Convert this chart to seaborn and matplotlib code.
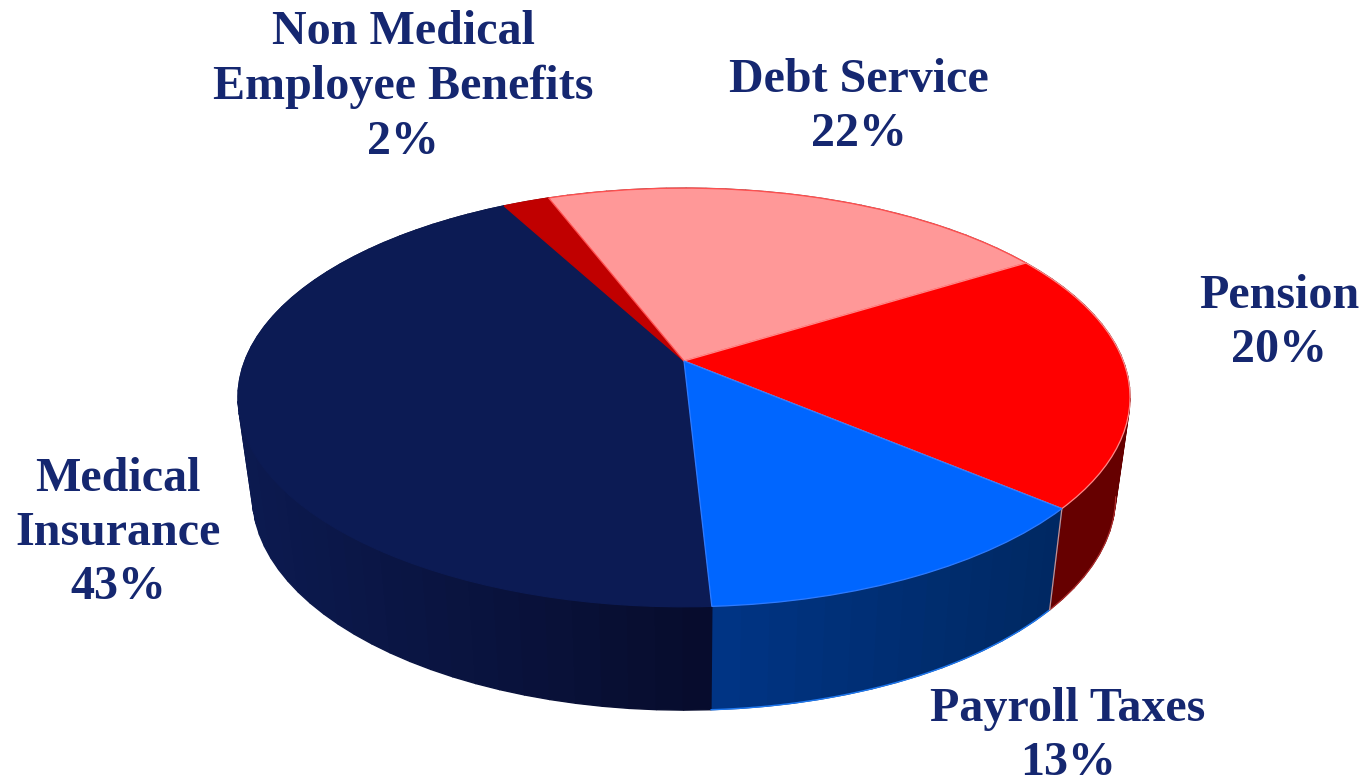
import numpy as np
import matplotlib
matplotlib.use("Agg")
import matplotlib.pyplot as plt
from matplotlib.colors import to_rgb
from matplotlib.transforms import Transform
import seaborn as sns

# Budget shares
categories = ["Medical\nInsurance", "Non Medical\nEmployee Benefits", "Debt Service", "Pension", "Payroll Taxes"]
shares = [43, 2, 22, 20, 13]

# Colours: top face, rim stroke, and the wall shade at each end of a slice
top_colors = ["#0C1B54", "#C00000", "#FF9898", "#FF0000", "#0066FF"]
top_edges = ["#0C1B54", "#C00000", "#FF5050", "#FF8888", "#2E7BFF"]
wall_left = ["#0C1A50", "#700000", "#994040", "#660000", "#003585"]
wall_right = ["#070C2C", "#700000", "#994040", "#660000", "#002862"]
label_color = "#152770"
start_angle = -87.0

# Label anchor points in pixels of the 1363x784 canvas
label_x = [118, 403, 859, 1279, 1068]
label_y = [533, 87, 107, 323, 736]

# Perspective camera: pixel-space parameters of the top (z=0) and bottom (z=1) discs
CENTER_X = 684.0
TOP_Y, BOTTOM_Y = 361.0, 458.8
TOP_A, BOTTOM_A = 439.2, 425.0
TOP_B, BOTTOM_B = 203.0, 207.6
TILT = 0.174


def project(u, v, z=0.0):
    """Map unit-disc coordinates at depth z (0 top, 1 bottom) to canvas pixels."""
    w = 1.0 + TILT * np.asarray(v)
    a = TOP_A + (BOTTOM_A - TOP_A) * z
    b = TOP_B + (BOTTOM_B - TOP_B) * z
    cy = TOP_Y + (BOTTOM_Y - TOP_Y) * z
    return CENTER_X + a * np.asarray(u) / w, cy - b * np.asarray(v) / w


class TopFace(Transform):
    input_dims = 2
    output_dims = 2
    is_affine = False

    def transform_non_affine(self, values):
        values = np.asarray(values)
        x, y = project(values[:, 0], values[:, 1])
        return np.column_stack([x, y])


sns.set_theme(style="white")
plt.rcParams["font.family"] = ["Liberation Serif", "DejaVu Serif"]

fig = plt.figure(figsize=(13.63, 7.84), dpi=100)
ax = fig.add_axes([0, 0, 1, 1])

wedges, _ = ax.pie(
    shares,
    colors=sns.color_palette(top_colors),
    startangle=start_angle,
    counterclock=False,
    wedgeprops={"linewidth": 0.9, "zorder": 5},
)
ax.set_aspect("auto")
ax.set_xlim(0, 1363)
ax.set_ylim(784, 0)
ax.set_axis_off()

face = TopFace() + ax.transData
for wedge, edge in zip(wedges, top_edges):
    wedge.set_edgecolor(edge)
    wedge.set_transform(face)

# Side wall: thin quads per slice, painted back to front, shaded left to right
strips = []
for i, wedge in enumerate(wedges):
    t0, t1 = np.radians(wedge.theta1), np.radians(wedge.theta2)
    steps = max(int((wedge.theta2 - wedge.theta1) / 3), 2)
    grid = np.linspace(t0, t1, steps + 1)
    left, right = np.array(to_rgb(wall_left[i])), np.array(to_rgb(wall_right[i]))
    span_x = project(np.cos(grid), np.sin(grid))[0]
    lo, hi = span_x.min(), span_x.max()
    for a, b in zip(grid[:-1], grid[1:]):
        ua, va, ub, vb = np.cos(a), np.sin(a), np.cos(b), np.sin(b)
        xs0, ys0 = project(np.array([ua, ub]), np.array([va, vb]), 0.0)
        xs1, ys1 = project(np.array([ub, ua]), np.array([vb, va]), 1.0)
        frac = (0.5 * (xs0[0] + xs0[1]) - lo) / max(hi - lo, 1.0)
        shade = left + (right - left) * frac
        strips.append((0.5 * (va + vb), np.r_[xs0, xs1], np.r_[ys0, ys1], shade))

for _, xs, ys, shade in sorted(strips, key=lambda s: -s[0]):
    ax.fill(xs, ys, color=shade, linewidth=1.0, zorder=2)


def rim(theta_a, theta_b, z, **style):
    grid = np.radians(np.linspace(theta_a, theta_b, 90))
    xs, ys = project(np.cos(grid), np.sin(grid), z)
    ax.plot(xs, ys, zorder=3, **style)


# Pale highlights on the front walls
payroll, pension = wedges[4], wedges[3]
rim(payroll.theta1, payroll.theta2, 1.0, color="#1E78F0", linewidth=1.0)
rim(pension.theta1, pension.theta1 + 30, 1.0, color="#B03030", linewidth=0.8)
seam = np.radians(pension.theta1)
seam_x = [project(np.cos(seam), np.sin(seam), z)[0] for z in (0.0, 1.0)]
seam_y = [project(np.cos(seam), np.sin(seam), z)[1] for z in (0.0, 1.0)]
ax.plot(seam_x, seam_y, color="#C89090", linewidth=0.9, zorder=3)

for name, share, x, y in zip(categories, shares, label_x, label_y):
    ax.text(x, y, f"{name}\n{share}%", ha="center", va="center",
            fontsize=34.6, fontweight="bold", color=label_color, linespacing=1.307)

fig.savefig("out.png", dpi=100, facecolor="white")
